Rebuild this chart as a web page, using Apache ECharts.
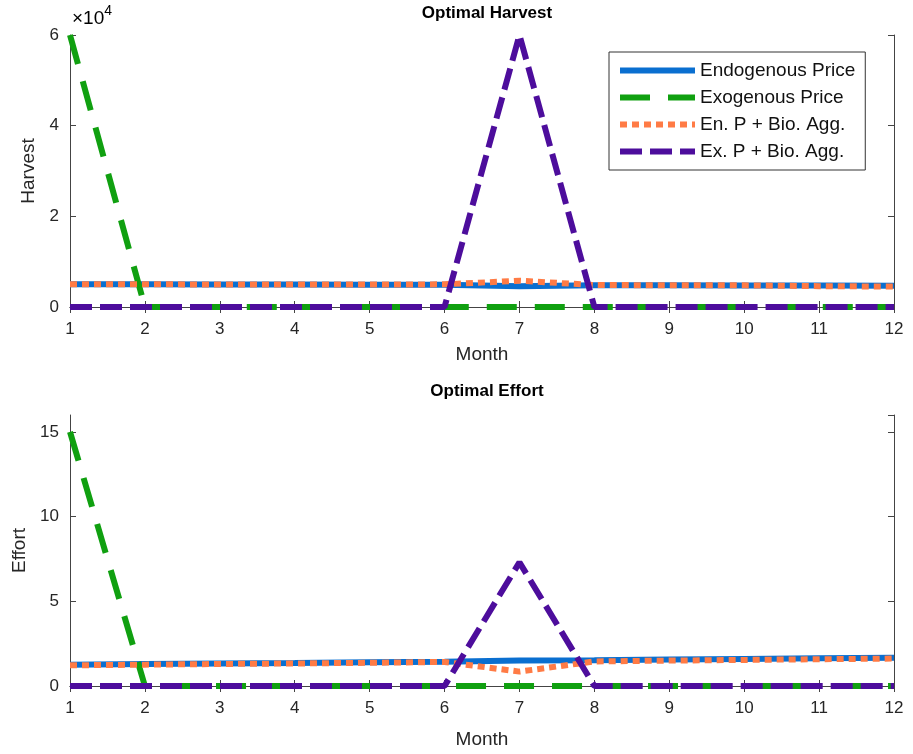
<!DOCTYPE html>
<html>
<head>
<meta charset="utf-8">
<script src="https://cdn.jsdelivr.net/npm/echarts@6/dist/echarts.min.js"></script>
<style>
  html, body { margin: 0; padding: 0; background: #fff; }
  #chart { width: 913px; height: 754px; }
</style>
</head>
<body>
<div id="chart"></div>
<script>
  // months on the x axis
  var months = [1, 2, 3, 4, 5, 6, 7, 8, 9, 10, 11, 12];
  var seriesNames = ['Endogenous Price', 'Exogenous Price', 'En. P + Bio. Agg.', 'Ex. P + Bio. Agg.'];

  // Optimal Harvest
  var harvestEndo = [5000, 5000, 4980, 4950, 4930, 4900, 4600, 4800, 4780, 4750, 4720, 4700];
  var harvestExo = [60000, 0, 0, 0, 0, 0, 0, 0, 0, 0, 0, 0];
  var harvestEnBio = [5000, 5000, 4980, 4950, 4950, 5000, 5800, 4850, 4800, 4780, 4600, 4500];
  var harvestExBio = [0, 0, 0, 0, 0, 0, 60000, 0, 0, 0, 0, 0];

  // Optimal Effort
  var effortEndo = [1.25, 1.3, 1.33, 1.36, 1.4, 1.43, 1.5, 1.52, 1.56, 1.6, 1.64, 1.67];
  var effortExo = [15, 0, 0, 0, 0, 0, 0, 0, 0, 0, 0, 0];
  var effortEnBio = [1.22, 1.26, 1.3, 1.33, 1.37, 1.42, 0.85, 1.45, 1.5, 1.54, 1.58, 1.62];
  var effortExBio = [0, 0, 0, 0, 0, 0, 7.3, 0, 0, 0, 0, 0];

  var colors = ['#0a6fd0', '#10a010', '#ff7b45', '#4d0d9c'];
  var dashes = ['solid', [30, 18], [7, 5], [22, 8]];

  function pairs(vals) {
    return months.map(function (m, i) { return [m, vals[i]]; });
  }

  function makeSeries(lists, xIdx, yIdx) {
    return lists.map(function (vals, i) {
      return {
        name: seriesNames[i],
        type: 'line',
        xAxisIndex: xIdx,
        yAxisIndex: yIdx,
        symbol: 'none',
        showSymbol: false,
        animation: false,
        data: pairs(vals),
        lineStyle: { color: colors[i], width: 6, type: dashes[i] },
        itemStyle: { color: colors[i] }
      };
    });
  }

  var axisColor = '#444';
  var labelStyle = { fontSize: 17, color: '#262626', fontFamily: 'Liberation Sans' };

  function xBottom(grid, gap) {
    return {
      type: 'value', gridIndex: grid, min: 1, max: 12, interval: 1,
      name: 'Month', nameLocation: 'middle', nameGap: gap,
      nameTextStyle: { fontSize: 19, color: '#262626', fontFamily: 'Liberation Sans' },
      axisLine: { show: true, onZero: false, lineStyle: { color: axisColor } },
      axisTick: { show: true, inside: true, length: 6, lineStyle: { color: axisColor } },
      axisLabel: Object.assign({ margin: 14 }, labelStyle),
      splitLine: { show: false }
    };
  }
  function xTop(grid) {
    return {
      type: 'value', gridIndex: grid, position: 'top', min: 1, max: 12, interval: 1,
      axisLine: { show: true, lineStyle: { color: axisColor } },
      axisTick: { show: true, inside: true, length: 6, lineStyle: { color: axisColor } },
      axisLabel: { show: false }, splitLine: { show: false }
    };
  }
  function yLeft(grid, max, interval, name, gap, fmt) {
    return {
      type: 'value', gridIndex: grid, min: 0, max: max, interval: interval,
      name: name, nameLocation: 'middle', nameGap: gap,
      nameTextStyle: { fontSize: 19, color: '#262626', fontFamily: 'Liberation Sans' },
      axisLine: { show: true, onZero: false, lineStyle: { color: axisColor } },
      axisTick: { show: true, inside: true, length: 6, lineStyle: { color: axisColor } },
      axisLabel: Object.assign({ margin: 11, showMaxLabel: max % interval === 0, formatter: fmt }, labelStyle),
      splitLine: { show: false }
    };
  }
  function yRight(grid, max, interval) {
    return {
      type: 'value', gridIndex: grid, position: 'right', min: 0, max: max, interval: interval,
      axisLine: { show: true, lineStyle: { color: axisColor } },
      axisTick: { show: true, inside: true, length: 6, lineStyle: { color: axisColor } },
      axisLabel: { show: false }, splitLine: { show: false }
    };
  }

  var chart = echarts.init(document.getElementById('chart'));
  chart.setOption({
    backgroundColor: '#fff',
    animation: false,
    title: [
      { text: 'Optimal Harvest', left: 482, top: 0, textAlign: 'center',
        textStyle: { fontSize: 17, fontWeight: 'bold', color: '#000', fontFamily: 'Liberation Sans' } },
      { text: 'Optimal Effort', left: 482, top: 378, textAlign: 'center',
        textStyle: { fontSize: 17, fontWeight: 'bold', color: '#000', fontFamily: 'Liberation Sans' } }
    ],
    graphic: [{
      type: 'text', left: 72, top: 4,
      style: {
        text: '{a|×10}{s|4}',
        rich: {
          a: { fontSize: 19, color: '#262626', fontFamily: 'Liberation Sans', verticalAlign: 'bottom' },
          s: { fontSize: 14, color: '#262626', fontFamily: 'Liberation Sans', verticalAlign: 'top', padding: [0, 0, 10, 0] }
        }
      }
    }],
    legend: {
      data: seriesNames,
      left: 609, top: 52,
      orient: 'vertical',
      itemWidth: 75, itemHeight: 14, itemGap: 8,
      padding: [9, 10, 9, 8],
      borderColor: '#333', borderWidth: 1,
      itemStyle: { opacity: 0 },
      lineStyle: { width: 6 },
      textStyle: { fontSize: 19, color: '#111', fontFamily: 'Liberation Sans' }
    },
    grid: [
      { left: 70, right: 19, top: 35, height: 272 },
      { left: 70, right: 19, top: 415, height: 271 }
    ],
    xAxis: [xBottom(0, 38), xTop(0), xBottom(1, 44), xTop(1)],
    yAxis: [
      yLeft(0, 60000, 20000, 'Harvest', 31, function (v) { return v / 10000; }),
      yRight(0, 60000, 20000),
      yLeft(1, 16, 5, 'Effort', 34),
      yRight(1, 16, 5)
    ],
    series: makeSeries([harvestEndo, harvestExo, harvestEnBio, harvestExBio], 0, 0)
      .concat(makeSeries([effortEndo, effortExo, effortEnBio, effortExBio], 2, 2))
  });
</script>
</body>
</html>
